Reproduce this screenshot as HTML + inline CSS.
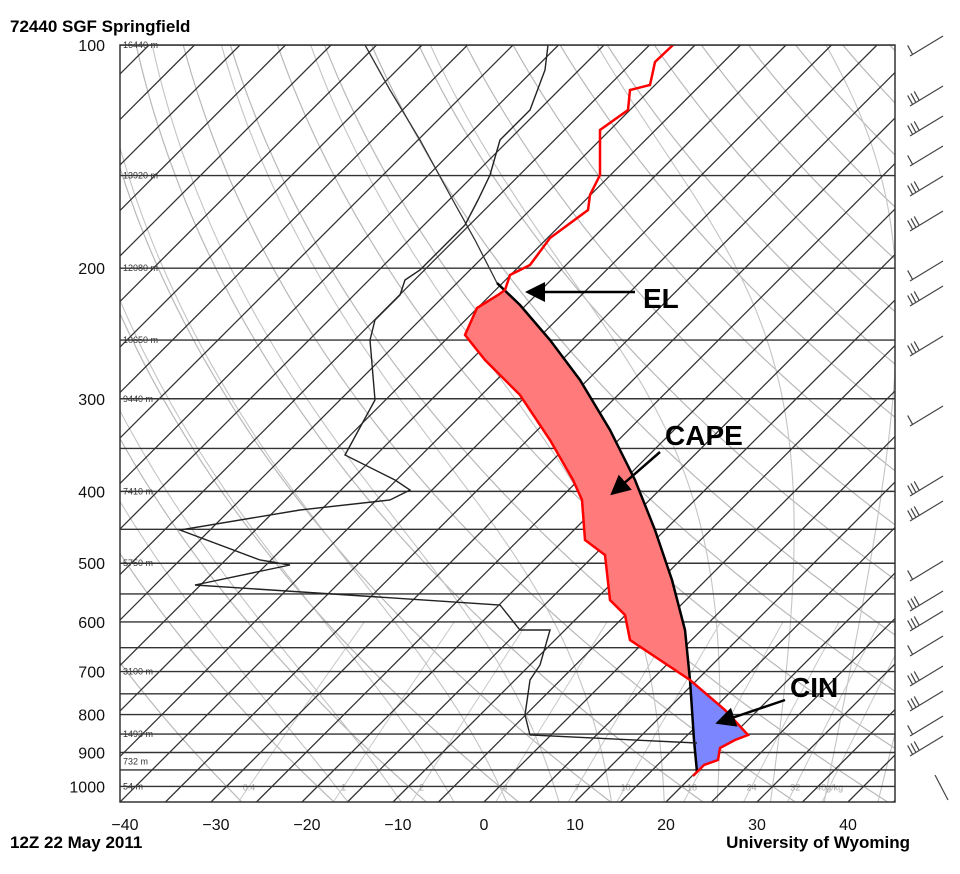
<!DOCTYPE html>
<html><head><meta charset="utf-8"><style>
html,body{margin:0;padding:0;background:#fff;}
svg{display:block;font-family:"Liberation Sans",sans-serif;}
</style></head><body>
<svg id="s" width="960" height="874" viewBox="0 0 960 874" xmlns="http://www.w3.org/2000/svg">
<defs><clipPath id="c"><rect x="120" y="45" width="775" height="757"/></clipPath>
<marker id="ah" markerWidth="8" markerHeight="8" refX="6" refY="4" orient="auto" markerUnits="strokeWidth"><path d="M0,0 L8,4 L0,8 z" fill="#000"/></marker></defs>
<g id="grid" clip-path="url(#c)"></g>
<g id="data" clip-path="url(#c)">
<polygon fill="#ff7b7b" stroke="none" points="498,295 477,308 465,335 485,360 520,395 550,440 573,480 582,500 585,540 605,555 610,600 625,615 630,640 690,680 685,630 672,580 655,530 635,480 610,430 580,380 550,340 520,305 505,292"/>
<polygon fill="#7b86ff" stroke="none" points="690,680 725,710 748,735 735,740 720,748 718,760 704,765 697,772 694,740"/>
<polyline fill="none" stroke="#333" stroke-width="1.3" points="365,45 390,90 420,140 450,195 475,240 497,283"/>
<polyline fill="none" stroke="#000" stroke-width="2.5" points="497,283 520,305 550,340 580,380 610,430 635,480 655,530 672,580 685,630 690,680 694,740 697,772"/>
<polyline fill="none" stroke="#222" stroke-width="1.4" points="548,45 545,70 530,110 500,140 490,175 478,200 465,225 440,250 420,270 405,280 400,295 375,320 370,340 375,400 345,455 395,480 410,490 390,500 300,510 180,530 260,560 290,565 195,585 500,605 520,630 550,630 540,665 530,680 525,715 530,735 697,743"/>
<polyline fill="none" stroke="#f00" stroke-width="2.5" points="673,45 655,62 650,85 630,90 628,110 600,130 600,175 590,195 588,210 550,238 530,265 510,275 505,290 498,295 477,308 465,335 485,360 520,395 550,440 573,480 582,500 585,540 605,555 610,600 625,615 630,640 690,680 725,710 748,735 735,740 720,748 718,760 704,765 697,772 693,776"/>
</g>
<rect x="120" y="45" width="775" height="757" fill="none" stroke="#333" stroke-width="1.5"/>
<g id="lab" font-size="16" fill="#111" text-anchor="end"></g>
<g id="hl" font-size="9" fill="#333"></g>
<g id="bar" stroke="#444" stroke-width="1.2" fill="none"></g>
<text x="10" y="32" font-size="17" font-weight="bold">72440 SGF Springfield</text>
<text x="10" y="848" font-size="17" font-weight="bold">12Z 22 May 2011</text>
<text x="910" y="848" font-size="17" font-weight="bold" text-anchor="end">University of Wyoming</text>
<g font-size="28" font-weight="bold" fill="#000">
<text x="643" y="308">EL</text>
<text x="665" y="445">CAPE</text>
<text x="790" y="697">CIN</text>
</g>
<g stroke="#000" stroke-width="2.5" marker-end="url(#ah)">
<line x1="635" y1="292" x2="530" y2="292"/>
<line x1="660" y1="452" x2="614" y2="492"/>
<line x1="785" y1="700" x2="720" y2="722"/>
</g>
</svg>
<script>
var NS="http://www.w3.org/2000/svg";
function el(p,t,a,txt){var e=document.createElementNS(NS,t);for(var k in a)e.setAttribute(k,a[k]);if(txt!=null)e.textContent=txt;document.getElementById(p).appendChild(e);return e;}
function Y(p){return 45+322*Math.log(p/100);}
function X(T,p){return 484+9.1*T+(802-Y(p));}
var ps=[];for(var p=100;p<=1050;p+=5)ps.push(p);
function poly(f,col,w,dash){var pts=[];for(var i=0;i<ps.length;i++){var T=f(ps[i]);if(T==null)continue;pts.push(X(T,ps[i]).toFixed(1)+","+Y(ps[i]).toFixed(1));}var a={points:pts.join(" "),fill:"none",stroke:col,"stroke-width":w};if(dash)a["stroke-dasharray"]=dash;el("grid","polyline",a);}
// dry adiabats
for(var th=-30;th<=220;th+=10){(function(th){poly(function(p){return (th+273.15)*Math.pow(p/1000,0.286)-273.15;},"#b8b8b8",1.2);})(th);}
// moist adiabats
function es(T){return 6.112*Math.exp(17.67*T/(T+243.5));}
function gam(T,p){var Tk=T+273.15,e=es(T),r=0.622*e/(p-e),L=2.5e6,Rd=287,cp=1004;
return (Rd*Tk+L*r)/(cp+L*L*r*0.622/(Rd*Tk*Tk))/p;}
for(var t0=-18;t0<=42;t0+=6){(function(t0){var m={};var T=t0;m[1000]=T;for(var p=1000;p>100;p-=5){T-=gam(T,p)*5;m[p-5]=T;}
T=t0;for(var p=1000;p<1050;p+=5){T+=gam(T,p)*5;m[p+5]=T;}
poly(function(p){return m[p];},"#c4c4c4",1.1);})(t0);}
// mixing ratio
var ws=[0.4,1,2,4,7,10,16,24,32,40];
ws.forEach(function(w){var f=function(p){if(p<600)return null;var e=w/1000*p/(0.622+w/1000);var l=Math.log(e/6.112);return 243.5*l/(17.67-l);};
poly(f,"#c8c8c8",1);
el("grid","text",{x:X(f(1000),1000),y:Y(1000)+4,"font-size":9,fill:"#aaa","text-anchor":"middle"},w==40?"40g/kg":String(w));});
// isobars
for(var p=100;p<=1050;p+=50){var y=Y(p);el("grid","line",{x1:120,x2:895,y1:y,y2:y,stroke:"#333","stroke-width":1.4});}
// isotherms every 5C
for(var T=-160;T<=60;T+=5){el("grid","line",{x1:X(T,1050),y1:Y(1050),x2:X(T,100),y2:Y(100),stroke:"#333","stroke-width":1.3});}
// labels
[100,200,300,400,500,600,700,800,900,1000].forEach(function(p){el("lab","text",{x:105,y:Y(p)+6},p);});
for(var T=-40;T<=40;T+=10){el("lab","text",{x:484+9.1*T+(T<0?5:0),y:830,"text-anchor":"middle"},T<0?"\u2212"+(-T):T);}
var hs=[[100,"16440 m"],[150,"13920 m"],[200,"12080 m"],[250,"10650 m"],[300,"9440 m"],[400,"7410 m"],[500,"5750 m"],[700,"3100 m"],[850,"1493 m"],[925,"732 m"],[1000,"54 m"]];
hs.forEach(function(h){el("hl","text",{x:123,y:Y(h[0])+3},h[1]);});
// barbs
var by=[50,100,130,160,190,225,275,300,350,420,490,515,575,605,625,650,680,705,730,750];
by.forEach(function(y,i){var x1=943,y1=y-14,x2=910,y2=y+6;el("bar","line",{x1:x1,y1:y1,x2:x2,y2:y2});
var n=(i%3==0)?1:3;for(var k=0;k<n;k++){var t=0.08+k*0.1;var bx=x2+(x1-x2)*t,byy=y2+(y1-y2)*t;el("bar","line",{x1:bx,y1:byy,x2:bx-5,y2:byy-9});}});
el("bar","line",{x1:935,y1:775,x2:948,y2:800});
</script>
</body></html>
